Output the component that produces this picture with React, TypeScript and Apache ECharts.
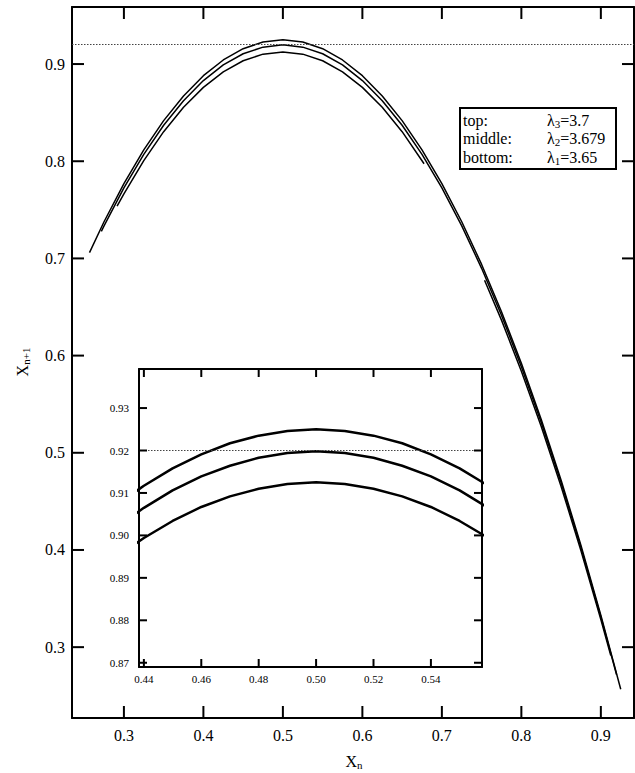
import React, { useEffect, useRef } from "react";
import * as echarts from "echarts";

// Main plot: logistic-map attractor curves x_{n+1} vs x_n
const topX = [0.2567, 0.275, 0.3, 0.325, 0.35, 0.375, 0.4, 0.425, 0.45, 0.475, 0.5, 0.525, 0.55, 0.575, 0.6, 0.625, 0.65, 0.675, 0.7, 0.725, 0.75, 0.775, 0.8, 0.825, 0.85, 0.875, 0.9, 0.925];
const topY = [0.706, 0.7377, 0.777, 0.8117, 0.8418, 0.8672, 0.888, 0.9042, 0.9158, 0.9227, 0.925, 0.9227, 0.9158, 0.9042, 0.888, 0.8672, 0.8418, 0.8117, 0.777, 0.7377, 0.6938, 0.6452, 0.592, 0.5342, 0.4718, 0.4047, 0.333, 0.2567];

const midX = [0.2716, 0.275, 0.3, 0.325, 0.35, 0.375, 0.4, 0.425, 0.45, 0.475, 0.5, 0.525, 0.55, 0.575, 0.6, 0.625, 0.65, 0.675, 0.7, 0.725, 0.75, 0.775, 0.8, 0.825, 0.85, 0.875, 0.9, 0.9198];
const midY = [0.7278, 0.7335, 0.7726, 0.8071, 0.837, 0.8623, 0.883, 0.8991, 0.9106, 0.9174, 0.9198, 0.9174, 0.9106, 0.8991, 0.883, 0.8623, 0.837, 0.8071, 0.7726, 0.7335, 0.6898, 0.6415, 0.5886, 0.5312, 0.4691, 0.4024, 0.3311, 0.2716];

const botX1 = [0.2914, 0.3, 0.325, 0.35, 0.375, 0.4, 0.425, 0.45, 0.475, 0.5, 0.525, 0.55, 0.575, 0.6, 0.625, 0.65, 0.6776];
const botY1 = [0.7537, 0.7665, 0.8007, 0.8304, 0.8555, 0.876, 0.892, 0.9034, 0.9102, 0.9125, 0.9102, 0.9034, 0.892, 0.876, 0.8555, 0.8304, 0.7974];
const botX2 = [0.7537, 0.775, 0.8, 0.825, 0.85, 0.875, 0.9, 0.9125];
const botY2 = [0.6776, 0.6365, 0.584, 0.527, 0.4654, 0.3992, 0.3285, 0.2914];

// Inset (zoom around the maximum)
const insetX = [0.43, 0.44, 0.45, 0.46, 0.47, 0.48, 0.49, 0.5, 0.51, 0.52, 0.53, 0.54, 0.55, 0.56, 0.57];
const insetTop = [0.9069, 0.9117, 0.9158, 0.9191, 0.9217, 0.9235, 0.9246, 0.925, 0.9246, 0.9235, 0.9217, 0.9191, 0.9158, 0.9117, 0.9069];
const insetMid = [0.9017, 0.9065, 0.9106, 0.9139, 0.9164, 0.9183, 0.9194, 0.9198, 0.9194, 0.9183, 0.9164, 0.9139, 0.9106, 0.9065, 0.9017];
const insetBot = [0.8946, 0.8994, 0.9034, 0.9067, 0.9092, 0.911, 0.9121, 0.9125, 0.9121, 0.911, 0.9092, 0.9067, 0.9034, 0.8994, 0.8946];

const threshold = 0.92;

const mainXTicks = [0.3, 0.4, 0.5, 0.6, 0.7, 0.8, 0.9];
const mainYTicks = [0.3, 0.4, 0.5, 0.6, 0.7, 0.8, 0.9];
const insetXTicks = [0.44, 0.46, 0.48, 0.5, 0.52, 0.54];
const insetYTicks = [0.87, 0.88, 0.89, 0.9, 0.91, 0.92, 0.93];

const legendRows = [
  { name: "top:", sub: "3", value: "3.7" },
  { name: "middle:", sub: "2", value: "3.679" },
  { name: "bottom:", sub: "1", value: "3.65" },
];

const FONT = "Liberation Serif";

const zip = (xs: number[], ys: number[]) => xs.map((x, i) => [x, ys[i]]);

function axis(ticks: number[], decimals: number, showLabel: boolean, fontSize: number, margin: number) {
  return {
    type: "value",
    splitLine: { show: false },
    axisLine: { show: true, onZero: false, lineStyle: { color: "#000", width: 2 } },
    axisTick: { show: false },
    axisLabel: {
      show: showLabel,
      customValues: ticks,
      formatter: (v: number) => v.toFixed(decimals),
      color: "#000",
      fontFamily: FONT,
      fontSize,
      margin,
    },
  };
}

export default function App() {
  const ref = useRef<HTMLDivElement>(null);
  useEffect(() => {
    if (!ref.current) return;
    const chart = echarts.init(ref.current, null, { renderer: "svg" });

    const lineSeries = (data: number[][], xi: number, yi: number, width: number) => ({
      type: "line",
      data,
      xAxisIndex: xi,
      yAxisIndex: yi,
      showSymbol: false,
      symbol: "none",
      clip: true,
      lineStyle: { color: "#000", width },
      z: 3,
    });

    const dotted = (xi: number, yi: number) => ({
      type: "line",
      data: [],
      xAxisIndex: xi,
      yAxisIndex: yi,
      markLine: {
        silent: true,
        symbol: ["none", "none"],
        label: { show: false },
        lineStyle: { color: "#444", width: 1.2, type: [1.5, 1.5] },
        data: [{ yAxis: threshold }],
      },
    });

    const mainRect = { left: 72, top: 7, width: 562, height: 711 };
    const insetRect = { left: 139, top: 369, width: 343, height: 298 };
    const mainXR = { min: 0.2347, max: 0.9417 };
    const mainYR = { min: 0.2271, max: 0.9587 };
    const insXR = { min: 0.4383, max: 0.5578 };
    const insYR = { min: 0.869, max: 0.9392 };

    const option: any = {
      animation: false,
      grid: [
        { ...mainRect, show: false },
        { ...mainRect, show: false },
        { ...insetRect, show: false },
        { ...insetRect, show: false },
      ],
      xAxis: [
        { ...axis(mainXTicks, 1, true, 16, 9), gridIndex: 0, ...mainXR, position: "bottom" },
        { ...axis(mainXTicks, 1, false, 16, 9), gridIndex: 1, ...mainXR, position: "top" },
        { ...axis(insetXTicks, 2, true, 11, 6), gridIndex: 2, ...insXR, position: "bottom" },
        { ...axis(insetXTicks, 2, false, 11, 6), gridIndex: 3, ...insXR, position: "top" },
      ],
      yAxis: [
        { ...axis(mainYTicks, 1, true, 16, 7), gridIndex: 0, ...mainYR, position: "left" },
        { ...axis(mainYTicks, 1, false, 16, 7), gridIndex: 1, ...mainYR, position: "right" },
        { ...axis(insetYTicks, 2, true, 11, 10), gridIndex: 2, ...insYR, position: "left" },
        { ...axis(insetYTicks, 2, false, 11, 10), gridIndex: 3, ...insYR, position: "right" },
      ],
      series: [
        dotted(0, 0),
        lineSeries(zip(topX, topY), 0, 0, 1.5),
        lineSeries(zip(midX, midY), 0, 0, 1.5),
        lineSeries(zip(botX1, botY1), 0, 0, 1.5),
        lineSeries(zip(botX2, botY2), 0, 0, 1.5),
        dotted(2, 2),
        lineSeries(zip(insetX, insetTop), 2, 2, 2.5),
        lineSeries(zip(insetX, insetMid), 2, 2, 2.5),
        lineSeries(zip(insetX, insetBot), 2, 2, 2.5),
      ],
    };

    chart.setOption(option);

    // Tick marks placed through the axes' own scales (inward on all four sides)
    const px = (key: string, idx: number, v: number) => chart.convertToPixel({ [key]: idx } as any, v) as unknown as number;
    const tickEls: any[] = [];
    const seg = (x1: number, y1: number, x2: number, y2: number) => ({
      type: "line",
      z: 20,
      shape: { x1, y1, x2, y2 },
      style: { stroke: "#000", lineWidth: 2 },
    });
    const addTicks = (xi: number, yi: number, xTicks: number[], yTicks: number[], xr: any, yr: any, len: number) => {
      const xL = px("xAxisIndex", xi, xr.min);
      const xR = px("xAxisIndex", xi, xr.max);
      const yB = px("yAxisIndex", yi, yr.min);
      const yT = px("yAxisIndex", yi, yr.max);
      xTicks.forEach((v) => {
        const x = px("xAxisIndex", xi, v);
        tickEls.push(seg(x, yB, x, yB - len), seg(x, yT, x, yT + len));
      });
      yTicks.forEach((v) => {
        const y = px("yAxisIndex", yi, v);
        tickEls.push(seg(xL, y, xL + len, y), seg(xR, y, xR - len, y));
      });
    };
    addTicks(0, 0, mainXTicks, mainYTicks, mainXR, mainYR, 12);
    addTicks(2, 2, insetXTicks, insetYTicks, insXR, insYR, 8);

    const subRich = (pad: number) => ({
      a: { fontFamily: FONT, fontSize: 16, fill: "#000" },
      b: { fontFamily: FONT, fontSize: 11, fill: "#000", padding: [pad, 0, 0, 0] },
    });

    chart.setOption({
      graphic: [
        ...tickEls,
        {
          type: "text",
          x: 22,
          y: 362,
          rotation: Math.PI / 2,
          style: { text: "{a|X}{b|n+1}", align: "center", verticalAlign: "middle", fill: "#000", rich: subRich(8) },
        },
        {
          type: "text",
          x: 354,
          y: 761,
          style: { text: "{a|X}{b|n}", align: "center", verticalAlign: "middle", fill: "#000", rich: subRich(8) },
        },
        {
          type: "group",
          left: 459,
          top: 107,
          z: 10,
          children: [
            {
              type: "rect",
              shape: { x: 0, y: 0, width: 156, height: 61 },
              style: { fill: "#fff", stroke: "#000", lineWidth: 2 },
            },
            ...legendRows.flatMap((r, i) => [
              {
                type: "text",
                x: 3,
                y: 12 + i * 18.5,
                style: { text: r.name, fontFamily: FONT, fontSize: 16, fill: "#000", verticalAlign: "middle" },
              },
              {
                type: "text",
                x: 87,
                y: 12 + i * 18.5,
                style: {
                  text: `{a|λ}{b|${r.sub}}{a|=${r.value}}`,
                  verticalAlign: "middle",
                  fill: "#000",
                  rich: subRich(7),
                },
              },
            ]),
          ],
        },
      ],
    });

    return () => chart.dispose();
  }, []);

  return (
    <div
      ref={ref}
      style={{ position: "fixed", left: 0, top: 0, width: 635, height: 773, background: "#fff" }}
    />
  );
}
